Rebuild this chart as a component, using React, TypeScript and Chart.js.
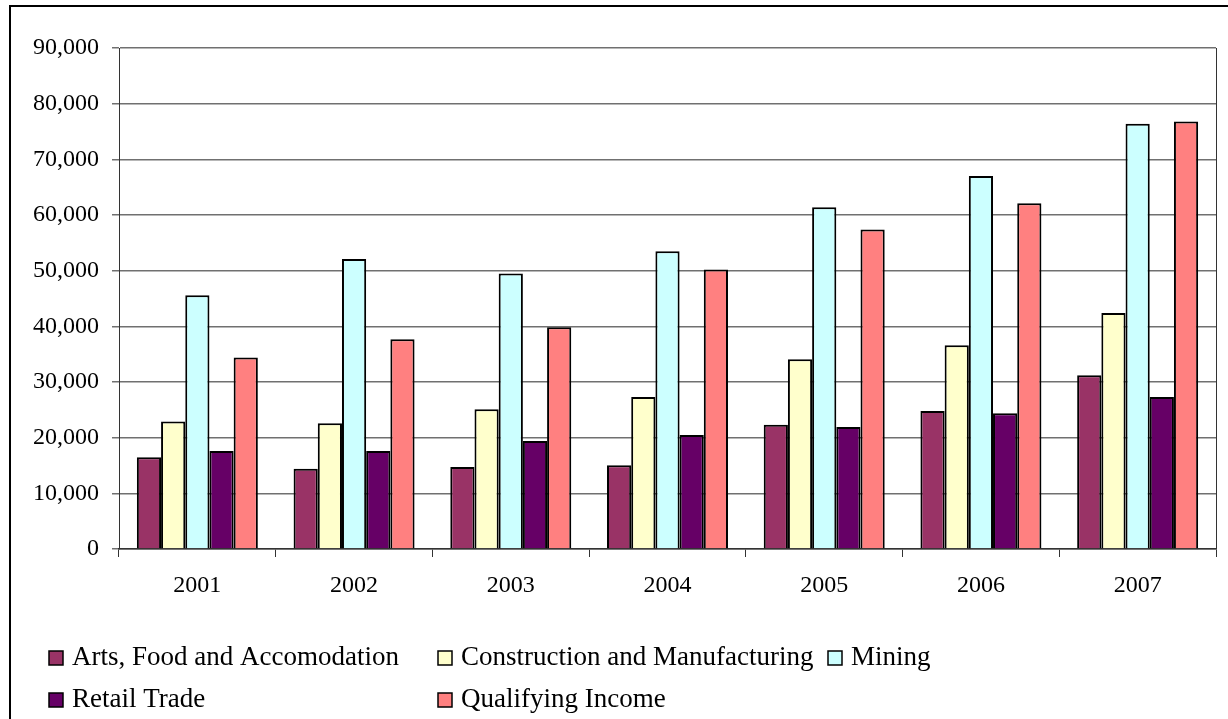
import React, { useEffect, useRef } from "react";
import { Chart, registerables } from "chart.js";

Chart.register(...registerables);

const years = ["2001", "2002", "2003", "2004", "2005", "2006", "2007"];
const artsFood = [16500, 14400, 14750, 15050, 22300, 24800, 31200];
const construction = [22900, 22600, 25100, 27300, 34100, 36600, 42400];
const mining = [45600, 52100, 49500, 53500, 61400, 67000, 76400];
const retail = [17600, 17600, 19400, 20500, 21900, 24400, 27300];
const qualifying = [34400, 37700, 39850, 50200, 57400, 62100, 76800];

const seriesNames = [
  "Arts, Food and Accomodation",
  "Construction and Manufacturing",
  "Mining",
  "Retail Trade",
  "Qualifying Income",
];
const seriesColors = ["#993366", "#FFFFCC", "#CCFFFF", "#660066", "#FF8080"];
const seriesValues = [artsFood, construction, mining, retail, qualifying];

const yMin = 0;
const yMax = 90000;
const yStep = 10000;

const FONT = "'Liberation Serif', 'Times New Roman', serif";

const legendPlugin = {
  id: "gridLegend",
  afterDraw(chart: any) {
    const ctx = chart.ctx;
    const slots = [
      [49, 665],
      [438, 665],
      [828, 665],
      [49, 707],
      [438, 707],
    ];
    ctx.save();
    ctx.font = `27px ${FONT}`;
    ctx.textBaseline = "alphabetic";
    ctx.textAlign = "left";
    chart.data.datasets.forEach((ds: any, i: number) => {
      const [x, y] = slots[i];
      ctx.fillStyle = ds.backgroundColor;
      ctx.fillRect(x, y - 14, 14, 14);
      ctx.strokeStyle = "#000";
      ctx.lineWidth = 1.5;
      ctx.strokeRect(x, y - 14, 14, 14);
      ctx.fillStyle = "#000";
      ctx.fillText(ds.label, x + 23, y);
    });
    ctx.restore();
  },
};

const frameRightPlugin = {
  id: "frameRight",
  afterDraw(chart: any) {
    const { ctx, chartArea } = chart;
    ctx.save();
    ctx.strokeStyle = "#333";
    ctx.lineWidth = 1;
    ctx.beginPath();
    ctx.moveTo(Math.round(chartArea.right) + 0.5, chartArea.top);
    ctx.lineTo(Math.round(chartArea.right) + 0.5, chartArea.bottom);
    ctx.stroke();
    ctx.restore();
  },
};

export default function App() {
  const canvasRef = useRef<HTMLCanvasElement | null>(null);

  useEffect(() => {
    if (!canvasRef.current) return;
    const chart = new Chart(canvasRef.current, {
      type: "bar",
      data: {
        labels: years,
        datasets: seriesNames.map((name, i) => ({
          label: name,
          data: seriesValues[i],
          backgroundColor: seriesColors[i],
          borderColor: "#000",
          borderWidth: 2,
          categoryPercentage: 0.772,
          barPercentage: 1,
        })),
      },
      options: {
        responsive: false,
        animation: false,
        layout: { padding: { top: 48, right: 12, left: 0, bottom: 0 } },
        plugins: {
          legend: { display: false },
          tooltip: { enabled: false },
          title: { display: false },
        },
        scales: {
          x: {
            afterFit: (scale: any) => {
              scale.height = 170;
            },
            grid: {
              display: true,
              drawOnChartArea: false,
              drawTicks: true,
              tickLength: 8,
              color: "#333",
              offset: true,
            },
            border: { display: true, color: "#333", width: 1.5 },
            ticks: {
              color: "#000",
              font: { family: FONT, size: 24 },
              padding: 14,
              maxRotation: 0,
            },
          },
          y: {
            min: yMin,
            max: yMax,
            afterFit: (scale: any) => {
              scale.width = 119;
            },
            grid: {
              color: "#707070",
              lineWidth: 1.5,
              tickLength: 7,
              drawTicks: true,
            },
            border: { display: true, color: "#333", width: 1 },
            ticks: {
              stepSize: yStep,
              color: "#000",
              font: { family: FONT, size: 24 },
              padding: 13,
              callback: (v: any) => Number(v).toLocaleString("en-US"),
            },
          },
        },
      },
      plugins: [legendPlugin, frameRightPlugin],
    });
    return () => chart.destroy();
  }, []);

  return (
    <div
      style={{
        position: "absolute",
        left: 0,
        top: 0,
        width: 1228,
        height: 719,
        overflow: "hidden",
        background: "#fff",
      }}
    >
      <div
        style={{
          position: "absolute",
          left: 9,
          top: 5,
          width: 1400,
          height: 900,
          borderLeft: "2px solid #000",
          borderTop: "2px solid #000",
        }}
      />
      <canvas
        ref={canvasRef}
        width={1228}
        height={719}
        style={{ position: "absolute", left: 0, top: 0, width: 1228, height: 719 }}
      />
    </div>
  );
}
